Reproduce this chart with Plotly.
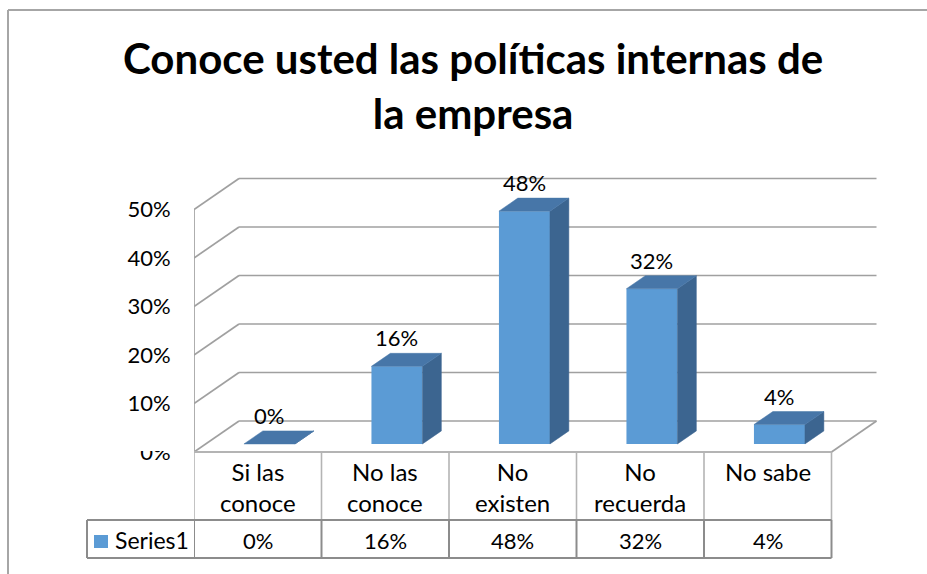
import plotly.graph_objects as go

# ---------------- data ----------------
categories = ["Si las<br>conoce", "No las<br>conoce", "No<br>existen", "No<br>recuerda", "No sabe"]
values = [0, 16, 48, 32, 4]
value_labels = ["0%", "16%", "48%", "32%", "4%"]
series_name = "Series1"
y_ticks = [0, 10, 20, 30, 40, 50]
y_tick_text = ["0%", "10%", "20%", "30%", "40%", "50%"]
title_text = "Conoce usted las políticas internas de<br>la empresa"

# ---------------- geometry / style ----------------
W, H = 927, 574
ML, MR, MT, MB = 194, 44, 161, 1
SX = 127.5          # px per category
SY = 4.85           # px per percent
XA = -0.5
XB = XA + (W - ML - MR) / SX
Y0PX = 452          # pixel row of value 0 (front plane)
YB = (Y0PX - MT) / SY
YA = (Y0PX - (H - MB)) / SY

DXC = 45 / SX       # depth offset in category units
DYV = 31 / SY       # depth offset in percent units
D1, D2 = 0.26, 0.68 # bar front / back depth
BW = 0.4            # bar width (categories)
VMAX = 50

FRONT = "#5B9BD5"
TOP = "#4776A8"
SIDE = "#3C6590"
GRID = "#A0A0A0"
TABLE = "#8C8C8C"
TABLE_LIGHT = "#B4B4B4"
FONT = "Lato"
FS = 22

n = len(categories)


def P(c, v, d):
    return c + d * DXC, v + d * DYV


def paper_x(px):
    return (px - ML) / (W - ML - MR)


def paper_y(py):
    return (H - MB - py) / (H - MT - MB)


def py2v(py):
    return (Y0PX - py) / SY


def c2px(c):
    return ML + (c - XA) * SX


fig = go.Figure()
shapes = []


def seg(p1, p2, color=GRID, width=1.7, layer="below"):
    shapes.append(dict(type="line", xref="x", yref="y", x0=p1[0], y0=p1[1], x1=p2[0], y1=p2[1],
                       line=dict(color=color, width=width), layer=layer))


def pseg(x0, y0, x1, y1, color, width, layer="above"):
    shapes.append(dict(type="line", xref="paper", yref="paper", x0=paper_x(x0), y0=paper_y(y0),
                       x1=paper_x(x1), y1=paper_y(y1), line=dict(color=color, width=width), layer=layer))


left, right = -0.5, n - 0.5
# walls / gridlines
for v in y_ticks:
    seg(P(left, v, 0), P(left, v, 1))
    seg(P(left, v, 1), P(right, v, 1))
# left front vertical edge
seg(P(left, 0, 0), P(left, VMAX, 0))
# floor front and right edge
seg(P(left, 0, 0), P(right, 0, 0), color=TABLE_LIGHT, width=2)
seg(P(right, 0, 0), P(right, 0, 1))

# bars: front faces
fig.add_trace(go.Bar(
    x=[i + D1 * DXC for i in range(n)], y=values, base=D1 * DYV, width=BW,
    marker=dict(color=FRONT, line=dict(width=0)), showlegend=False, hoverinfo="skip"))

# side and top faces
for i, v in enumerate(values):
    c0, c1 = i - BW / 2, i + BW / 2
    side = [P(c1, 0, D1), P(c1, 0, D2), P(c1, v, D2), P(c1, v, D1), P(c1, 0, D1)]
    top = [P(c0, v, D1), P(c1, v, D1), P(c1, v, D2), P(c0, v, D2), P(c0, v, D1)]
    for poly, col in ((side, SIDE), (top, TOP)):
        fig.add_trace(go.Scatter(x=[p[0] for p in poly], y=[p[1] for p in poly], mode="lines",
                                 fill="toself", fillcolor=col, line=dict(color=col, width=0.5),
                                 showlegend=False, hoverinfo="skip"))

annotations = []
# data labels
for i, v in enumerate(values):
    x, y = P(i, v, D2)
    annotations.append(dict(x=i + D1 * DXC, y=y, xref="x", yref="y", text=value_labels[i],
                            showarrow=False, yanchor="bottom", yshift=0,
                            font=dict(family=FONT, size=FS, color="#000000")))

# ---------------- data table ----------------
HDR_BOT, TBL_BOT, TBL_LEFT = 520, 558, 87
for k in range(n + 1):
    seg((left + k, 0), (left + k, py2v(HDR_BOT)), color=TABLE_LIGHT, width=1.6, layer="above")
pseg(TBL_LEFT, HDR_BOT, c2px(right), HDR_BOT, TABLE, 2)
pseg(TBL_LEFT, TBL_BOT, c2px(right), TBL_BOT, TABLE, 2)
pseg(TBL_LEFT, HDR_BOT, TBL_LEFT, TBL_BOT, TABLE, 2)
for k in range(n + 1):
    seg((left + k, py2v(HDR_BOT)), (left + k, py2v(TBL_BOT)), color=TABLE, width=2, layer="above")

for i, cat in enumerate(categories):
    annotations.append(dict(x=i, y=py2v(455), xref="x", yref="y", text=cat, showarrow=False,
                            yanchor="top", align="center",
                            font=dict(family=FONT, size=24, color="#000000")))
    annotations.append(dict(x=i, y=py2v(540), xref="x", yref="y", text=value_labels[i],
                            showarrow=False, yanchor="middle",
                            font=dict(family=FONT, size=FS, color="#000000")))
# legend key
shapes.append(dict(type="rect", xref="paper", yref="paper", x0=paper_x(94), x1=paper_x(108),
                   y0=paper_y(548), y1=paper_y(535), fillcolor=FRONT, line=dict(width=0), layer="above"))
annotations.append(dict(x=paper_x(113), y=paper_y(540), xref="paper", yref="paper", text=series_name,
                        showarrow=False, xanchor="left", yanchor="middle",
                        font=dict(family=FONT, size=FS + 1, color="#000000")))

# mask the top of the 0% tick label (hidden behind the floor in the original)
shapes.append(dict(type="rect", xref="paper", yref="paper", x0=paper_x(110), x1=paper_x(192),
                   y0=paper_y(451), y1=paper_y(436), fillcolor="white", line=dict(width=0), layer="above"))

# outer chart border
pseg(8, 10, W + 5, 10, "#A6A6A6", 2)
pseg(8, 10, 8, H + 5, "#A6A6A6", 2)

# title
annotations.append(dict(x=paper_x(472.5), y=paper_y(85), xref="paper", yref="paper", text=title_text,
                        showarrow=False, xanchor="center", yanchor="middle", align="center",
                        font=dict(family=FONT, size=42, color="#000000", weight="bold")))

fig.update_layout(
    width=W, height=H,
    margin=dict(l=ML, r=MR, t=MT, b=MB, autoexpand=False),
    paper_bgcolor="white", plot_bgcolor="rgba(0,0,0,0)",
    xaxis=dict(range=[XA, XB], visible=False, fixedrange=True),
    yaxis=dict(range=[YA, YB], tickmode="array", tickvals=y_ticks, ticktext=y_tick_text,
               showgrid=False, zeroline=False, showline=False, ticks="outside", ticklen=18,
               tickcolor="rgba(0,0,0,0)",
               tickfont=dict(family=FONT, size=FS, color="#000000"), fixedrange=True),
    shapes=shapes, annotations=annotations, showlegend=False, barmode="overlay",
)

fig.write_html("out.html")
